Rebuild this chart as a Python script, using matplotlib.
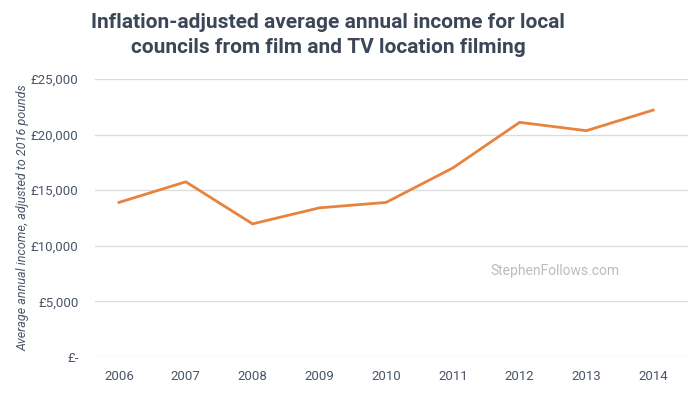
import matplotlib
matplotlib.use("Agg")
import matplotlib.pyplot as plt
from matplotlib.ticker import FuncFormatter

years = [2006, 2007, 2008, 2009, 2010, 2011, 2012, 2013, 2014]
income = [13900, 15750, 11970, 13410, 13900, 17000, 21100, 20350, 22200]
yticks = [0, 5000, 10000, 15000, 20000, 25000]

text_col = "#4a5566"
title_col = "#3b4656"

plt.rcParams['font.family'] = ['Roboto', 'DejaVu Sans']

fig = plt.figure(figsize=(7, 3.93), dpi=100)
ax = fig.add_axes([0.1357, 0.0916, 0.847, 0.7075])

ax.plot(years, income, color="#e8833f", lw=2.0, solid_joinstyle="miter", zorder=3)

ax.set_xlim(2005.64, 2014.52)
ax.set_ylim(0, 25000)
ax.set_xticks(years)
ax.set_yticks(yticks)


def pounds(v, pos):
    if v == 0:
        return "£-"
    return "£{:,.0f}".format(v)


ax.yaxis.set_major_formatter(FuncFormatter(pounds))
ax.grid(axis="y", color="#dcdcdc", lw=0.9)
ax.set_axisbelow(True)
for s in ax.spines.values():
    s.set_visible(False)
ax.tick_params(length=0, colors=text_col, labelsize=9.5)
ax.tick_params(axis="x", pad=9)
ax.tick_params(axis="y", pad=12)

ax.set_ylabel("Average annual income, adjusted to 2016 pounds", fontsize=9,
              style="italic", color=text_col, labelpad=1)

fig.text(0.469, 0.911, "Inflation-adjusted average annual income for local\n"
         "councils from film and TV location filming",
         ha="center", va="center", fontsize=15, fontweight="bold",
         color=title_col, linespacing=1.45)

fig.text(0.70, 0.31, "StephenFollows.com", color="#bcbcbc", fontsize=10,
         ha="left", va="center")

fig.savefig("out.png", dpi=100)
